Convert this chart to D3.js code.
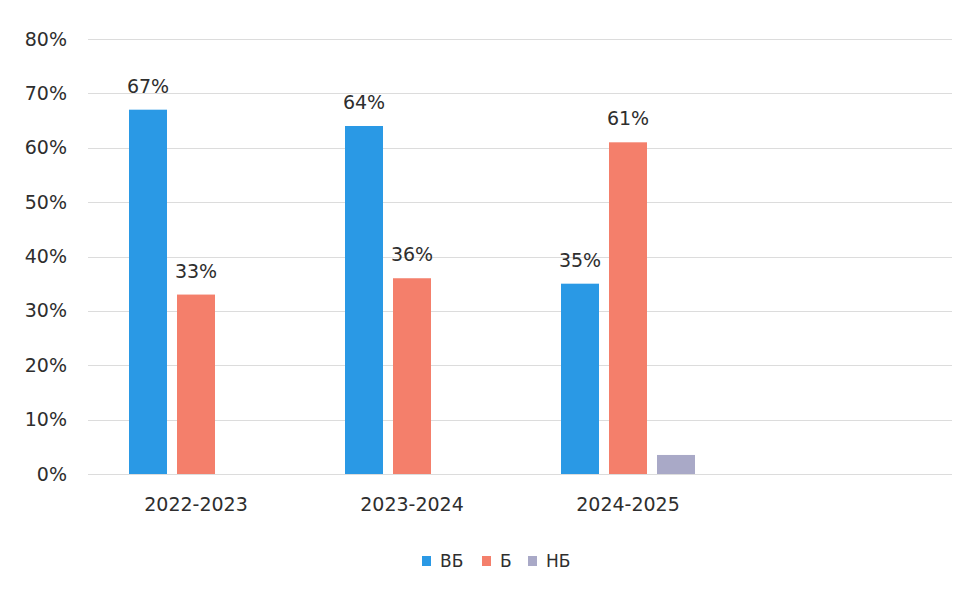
<!DOCTYPE html>
<html><head><meta charset="utf-8">
<script src="https://cdn.jsdelivr.net/npm/d3@7"></script>
<style>body{margin:0;background:#fff;}svg{display:block;font-family:"DejaVu Sans",sans-serif;}</style>
</head><body><svg id="c" width="971" height="594"></svg>
<script>
const categories = ["2022-2023", "2023-2024", "2024-2025", ""];
const seriesNames = ["ВБ", "Б", "НБ"];
const valuesVB = [0.67, 0.64, 0.35, null];
const valuesB = [0.33, 0.36, 0.61, null];
const valuesNB = [0, 0, 0.035, null];
const labelsVB = ["67%", "64%", "35%", ""];
const labelsB = ["33%", "36%", "61%", ""];
const labelsNB = ["", "", "", ""];
const yTicks = [0, 0.1, 0.2, 0.3, 0.4, 0.5, 0.6, 0.7, 0.8];
const colors = ["#2a99e5", "#f47f6b", "#a9a9c7"];

const series = [valuesVB, valuesB, valuesNB];
const labels = [labelsVB, labelsB, labelsNB];

const svg = d3.select("#c");
const plotLeft = 88, plotRight = 952, plotTop = 39, plotBottom = 474;
const textColor = "#2e2e2e";

const x = d3.scaleBand().domain(d3.range(categories.length)).range([plotLeft, plotRight]).padding(0);
const y = d3.scaleLinear().domain([0, 0.8]).range([plotBottom, plotTop]);
const inner = d3.scaleBand().domain(d3.range(3)).range([x.bandwidth()/2 - 67, x.bandwidth()/2 + 67]).paddingInner(10/48).paddingOuter(0);

// gridlines
svg.append("g").selectAll("line").data(yTicks).join("line")
  .attr("x1", plotLeft).attr("x2", plotRight)
  .attr("y1", d => Math.round(y(d)) + 0.5).attr("y2", d => Math.round(y(d)) + 0.5)
  .attr("stroke", "#dcdcdc").attr("stroke-width", 1);

// y axis labels
const yAxis = d3.axisLeft(y).tickValues(yTicks).tickFormat(d3.format(".0%")).tickSize(0).tickPadding(0);
const ya = svg.append("g").attr("transform", `translate(67,0)`).call(yAxis);
ya.select(".domain").remove();
ya.selectAll("text").attr("font-size", 19).attr("fill", textColor).attr("font-family", "DejaVu Sans");

// x axis labels
const xAxis = d3.axisBottom(x).tickFormat(i => categories[i]).tickSize(0).tickPadding(0);
const xa = svg.append("g").attr("transform", `translate(0,${plotBottom + 23})`).call(xAxis);
xa.select(".domain").remove();
xa.selectAll("text").attr("font-size", 19).attr("fill", textColor).attr("dy", "0.71em").attr("font-family", "DejaVu Sans");

// bars
series.forEach((vals, s) => {
  const g = svg.append("g");
  vals.forEach((v, i) => {
    if (v == null || v === 0) return;
    const bx = x(i) + inner(s);
    g.append("rect").attr("x", bx).attr("width", inner.bandwidth())
      .attr("y", y(v)).attr("height", y(0) - y(v)).attr("fill", colors[s]);
    if (labels[s][i]) {
      g.append("text").attr("x", bx + inner.bandwidth()/2).attr("y", y(v) - 17)
        .attr("text-anchor", "middle").attr("font-size", 19).attr("fill", textColor)
        .text(labels[s][i]);
    }
  });
});

// legend
const legend = svg.append("g").attr("transform", "translate(422,561)");
const legX = [0, 60, 106];
seriesNames.forEach((n, s) => {
  const lg = legend.append("g").attr("transform", `translate(${legX[s]},0)`);
  lg.append("rect").attr("x", 0).attr("y", -5).attr("width", 9).attr("height", 10).attr("fill", colors[s]);
  lg.append("text").attr("x", 18).attr("y", 0).attr("dy", "0.36em").attr("font-size", 17).attr("fill", textColor).text(n);
});
</script></body></html>
